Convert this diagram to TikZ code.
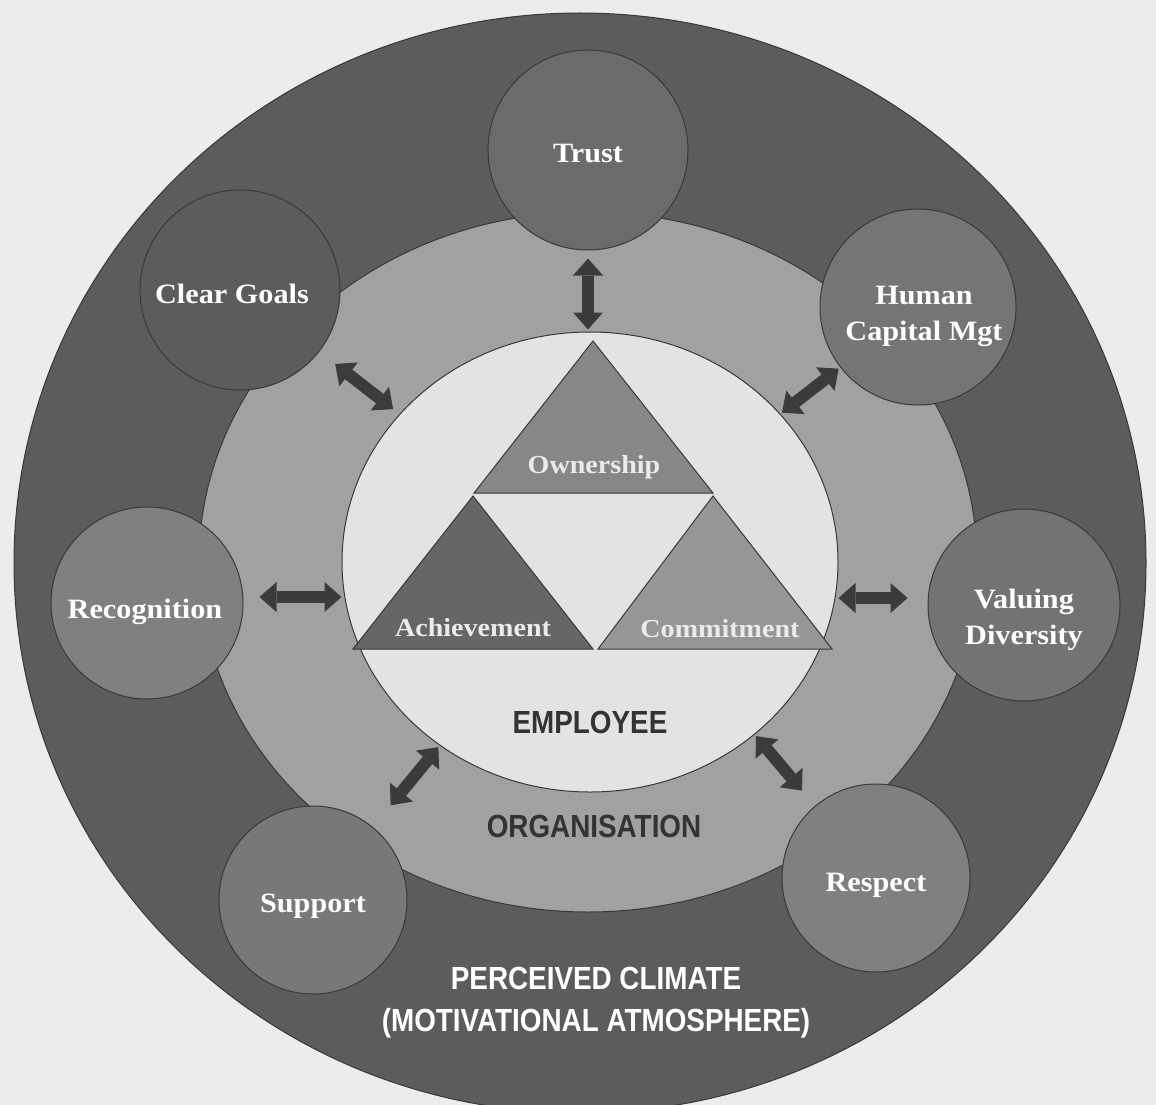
\documentclass[tikz,border=0pt]{standalone}
\usepackage{fontspec}
\setmainfont{Liberation Serif}[FakeStretch=1.08]
\newfontfamily\capsfont{Liberation Sans}[FakeStretch=0.87]
\usetikzlibrary{shapes.geometric,arrows.meta}

\definecolor{pagebg}{gray}{0.925}
\definecolor{climatefill}{gray}{0.36}
\definecolor{orgfill}{gray}{0.63}
\definecolor{empfill}{gray}{0.89}
\definecolor{rim}{gray}{0.22}
\definecolor{arrowfill}{gray}{0.23}
\definecolor{captext}{gray}{0.2}

\begin{document}
\begin{tikzpicture}[x=1pt,y=-1pt,
  zone/.style={ellipse,draw=rim,line width=1pt,inner sep=0pt},
  bubble/.style={circle,draw=rim,line width=1pt,inner sep=0pt},
  bubbletext/.style={text=white,align=center,font=\fontsize{28}{36}\selectfont\bfseries},
  link/.style={draw=arrowfill,line width=12pt,
    {Triangle[length=17pt,width=30pt,line width=0pt]}-{Triangle[length=17pt,width=30pt,line width=0pt]}},
  tri/.style={draw=rim,line width=1pt},
  trilabel/.style={text=white!92!black,font=\fontsize{26}{30}\selectfont\bfseries},
  caption/.style={font=\capsfont\bfseries\fontsize{32}{40}\selectfont,align=center}]

\path[use as bounding box] (0,0) rectangle (1156,1105);
\fill[pagebg] (0,0) rectangle (1156,1105);
\clip (0,0) rectangle (1156,1105);

  \node[zone,fill=climatefill,minimum width=1132pt,minimum height=1100pt] (climate) at (580,563) {};
  \node[zone,fill=orgfill,minimum width=778pt,minimum height=700pt] (org) at (588,562) {};

  \node[bubble,fill=black!58,minimum size=200pt] (trust) at (588,150) {};
  \node[bubble,fill=black!64,minimum size=200pt] (goals) at (240,290) {};
  \node[bubble,fill=black!54,minimum size=196pt] (capital) at (918,307) {};
  \node[bubble,fill=black!50,minimum size=192pt] (recog) at (147,603) {};
  \node[bubble,fill=black!55,minimum size=192pt] (divers) at (1024,605) {};
  \node[bubble,fill=black!53,minimum size=188pt] (support) at (313,900) {};
  \node[bubble,fill=black!50,minimum size=188pt] (respect) at (876,878) {};

  \node[bubbletext] (trusttext) at ([yshift=-4pt]trust) {Trust};
  \node[bubbletext] (goalstext) at ([shift={(-8pt,-4pt)}]goals) {Clear Goals};
  \node[bubbletext] (capitaltext) at ([shift={(6pt,-9pt)}]capital) {Human\\Capital Mgt};
  \node[bubbletext] (recogtext) at ([shift={(-2pt,-9pt)}]recog) {Recognition};
  \node[bubbletext] (diverstext) at ([yshift=-15pt]divers) {Valuing\\Diversity};
  \node[bubbletext] (supporttext) at ([yshift=-6pt]support) {Support};
  \node[bubbletext] (respecttext) at ([yshift=-7pt]respect) {Respect};

  \node[zone,fill=empfill,minimum width=496pt,minimum height=460pt] (employee) at (590,562) {};

  \filldraw[tri,fill=black!47] (593,341) -- (713,493) -- (474,493) -- cycle;
  \filldraw[tri,fill=black!60] (473,496) -- (593,649) -- (353,649) -- cycle;
  \filldraw[tri,fill=black!41] (713,496) -- (832,649) -- (598,649) -- cycle;

  \node[trilabel] (own) at (594,467) {Ownership};
  \node[trilabel] (ach) at (473,628) {Achievement};
  \node[trilabel] (com) at (720,629) {Commitment};

  \draw[link,shorten <=8pt,shorten >=2pt] (trust.south) -- (trust.south |- employee.north);
  \draw[link,shorten <=20pt,shorten >=8pt] (goals) -- (employee);
  \draw[link,shorten <=2pt,shorten >=2pt] (capital) -- (employee);
  \draw[link,shorten <=16pt] ([yshift=6pt]recog.east) -- ([yshift=6pt]recog.east -| employee.west);
  \draw[link,shorten <=20pt] ([yshift=7pt]divers.west) -- ([yshift=7pt]divers.west -| employee.east);
  \draw[link,shorten <=28pt,shorten >=2pt] (support) -- (employee);
  \draw[link,shorten <=20pt,shorten >=2pt] ([shift={(8pt,8pt)}]respect) -- ([shift={(8pt,8pt)}]employee);

  \node[caption,text=captext] (emptext) at (590,722) {EMPLOYEE};
  \node[caption,text=captext] (orgtext) at (594,826) {ORGANISATION};
  \node[caption,text=white,font=\capsfont\bfseries\fontsize{32}{42}\selectfont] (climtext) at (596,1003)
    {PERCEIVED CLIMATE\\(MOTIVATIONAL ATMOSPHERE)};
\end{tikzpicture}
\end{document}
